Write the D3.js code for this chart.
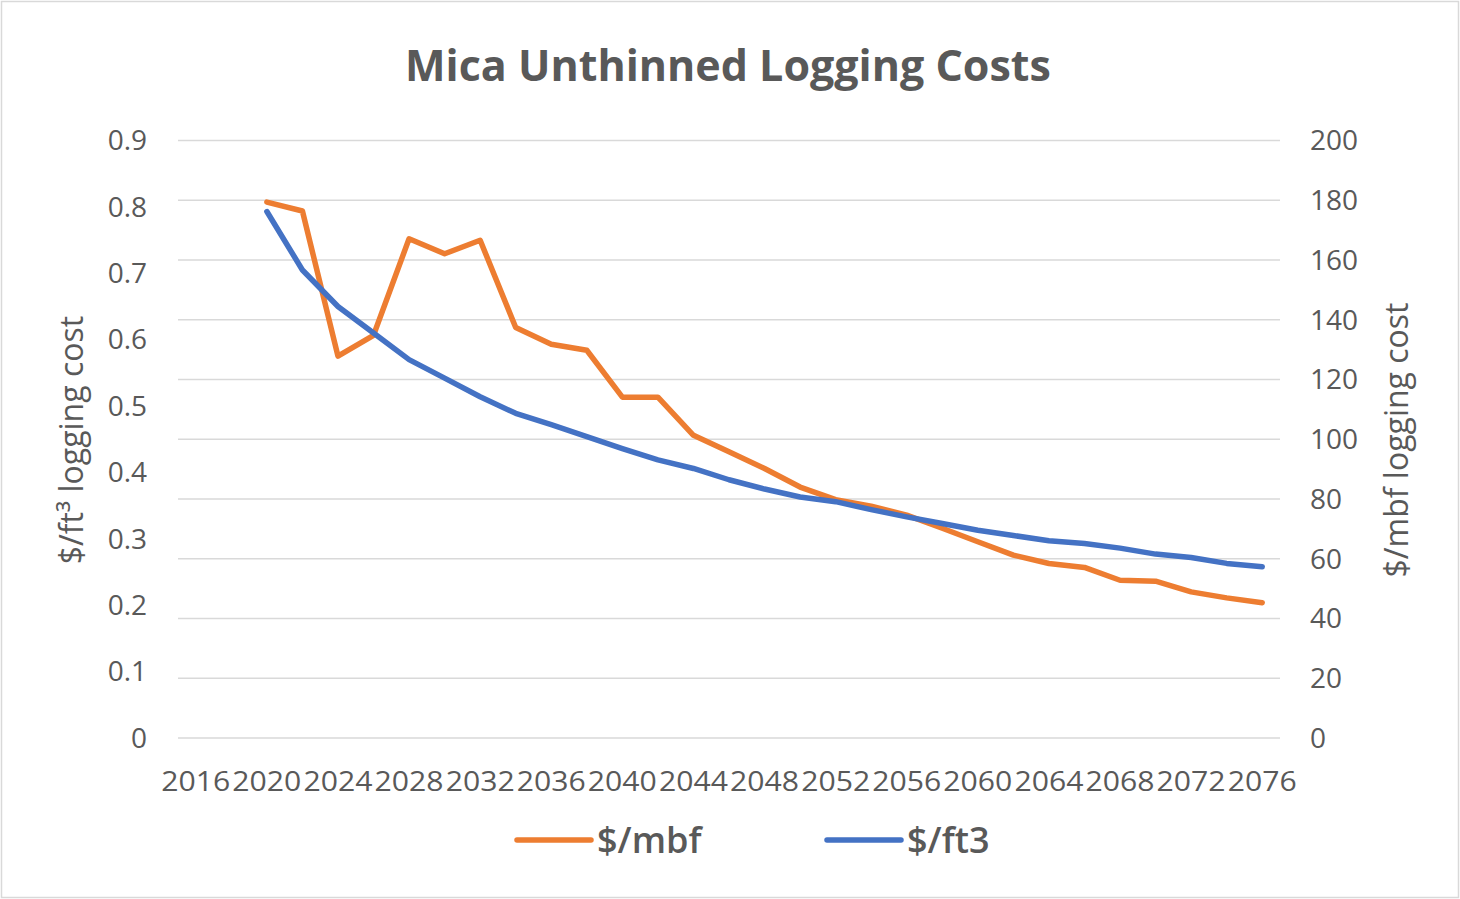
<!DOCTYPE html>
<html>
<head>
<meta charset="utf-8">
<script src="https://cdn.jsdelivr.net/npm/d3@7"></script>
<style>
  html, body { margin: 0; padding: 0; background: #fff; }
  svg text { font-family: "Open Sans", "Noto Sans", sans-serif; fill: #595959; }
</style>
</head>
<body>
<div id="chart"></div>
<script>
// categories: one every 2 years, label every other one
const years = [2016, 2018, 2020, 2022, 2024, 2026, 2028, 2030, 2032, 2034, 2036, 2038, 2040,
  2042, 2044, 2046, 2048, 2050, 2052, 2054, 2056, 2058, 2060, 2062, 2064, 2066, 2068, 2070,
  2072, 2074, 2076];

// $/mbf (right axis)
const mbfValues = [null, null, 179.4, 176.4, 127.8, 134.8, 167.1, 162.1, 166.6, 137.4, 131.8,
  129.8, 114.1, 114.1, 101.3, 95.8, 90.2, 84.0, 79.8, 77.6, 74.6, 70.2, 65.7, 61.2, 58.4,
  57.1, 52.8, 52.5, 48.9, 46.9, 45.3];

// $/ft3 (left axis)
const ft3Values = [null, null, 0.793, 0.705, 0.650, 0.610, 0.570, 0.542, 0.514, 0.489, 0.472,
  0.454, 0.436, 0.419, 0.406, 0.389, 0.375, 0.363, 0.356, 0.344, 0.333, 0.323, 0.313,
  0.305, 0.297, 0.293, 0.286, 0.277, 0.272, 0.263, 0.258];

const leftTicks = [0, 0.1, 0.2, 0.3, 0.4, 0.5, 0.6, 0.7, 0.8, 0.9];
const rightTicks = [0, 20, 40, 60, 80, 100, 120, 140, 160, 180, 200];

const W = 1460, H = 899;
const plot = {left: 178, right: 1280, top: 140.5, bottom: 738};

const svg = d3.select("#chart").append("svg")
  .attr("width", W)
  .attr("height", H);

svg.append("rect")
  .attr("x", 1.5).attr("y", 1.5)
  .attr("width", W - 3).attr("height", H - 3)
  .attr("fill", "#fff")
  .attr("stroke", "#d9d9d9")
  .attr("stroke-width", 1.5);

// scales
const x = d3.scaleBand()
  .domain(years)
  .range([plot.left, plot.right])
  .padding(0);
const xc = d => x(d) + x.bandwidth() / 2;

const yLeft = d3.scaleLinear().domain([0, 0.9]).range([plot.bottom, plot.top]);
const yRight = d3.scaleLinear().domain([0, 200]).range([plot.bottom, plot.top]);

// gridlines (follow the right axis)
svg.append("g").attr("class", "grid")
  .selectAll("line")
  .data(rightTicks)
  .join("line")
  .attr("x1", plot.left).attr("x2", plot.right)
  .attr("y1", d => yRight(d)).attr("y2", d => yRight(d))
  .attr("stroke", "#d9d9d9")
  .attr("stroke-width", 1.5);

// left axis labels
svg.append("g")
  .selectAll("text")
  .data(leftTicks)
  .join("text")
  .attr("x", 147)
  .attr("y", d => yLeft(d))
  .attr("dy", "0.35em")
  .attr("text-anchor", "end")
  .style("font-size", "28px")
  .text(d => d3.format("")(d));

// right axis labels
svg.append("g")
  .selectAll("text")
  .data(rightTicks)
  .join("text")
  .attr("x", 1310)
  .attr("y", d => yRight(d))
  .attr("dy", "0.35em")
  .attr("text-anchor", "start")
  .style("font-size", "28px")
  .text(d => d);

// x axis labels, every 4 years
svg.append("g")
  .selectAll("text")
  .data(years.filter((d, i) => i % 2 === 0))
  .join("text")
  .attr("x", d => xc(d))
  .attr("y", 781)
  .attr("dy", "0.35em")
  .attr("text-anchor", "middle")
  .attr("textLength", 69)
  .attr("lengthAdjust", "spacingAndGlyphs")
  .style("font-size", "28px")
  .text(d => d);

// axis titles
svg.append("text")
  .attr("transform", "translate(72,440) rotate(-90)")
  .attr("text-anchor", "middle")
  .attr("dy", "0.35em")
  .style("font-size", "32px")
  .text("$/ft\u00B3 logging cost");

svg.append("text")
  .attr("transform", "translate(1397,440) rotate(-90)")
  .attr("text-anchor", "middle")
  .attr("dy", "0.35em")
  .style("font-size", "32px")
  .text("$/mbf logging cost");

// title
svg.append("text")
  .attr("x", 728)
  .attr("y", 66)
  .attr("dy", "0.35em")
  .attr("text-anchor", "middle")
  .style("font-size", "43px")
  .style("font-weight", "bold")
  .text("Mica Unthinned Logging Costs");

// lines
const series = [
  {name: "$/mbf", values: mbfValues, scale: yRight, color: "#ED7D31"},
  {name: "$/ft3", values: ft3Values, scale: yLeft, color: "#4472C4"}
];

series.forEach(s => {
  const line = d3.line()
    .defined(d => d.v !== null)
    .x(d => xc(d.year))
    .y(d => s.scale(d.v));
  svg.append("path")
    .datum(years.map((year, i) => ({year: year, v: s.values[i]})))
    .attr("d", line)
    .attr("fill", "none")
    .attr("stroke", s.color)
    .attr("stroke-width", 5.5)
    .attr("stroke-linejoin", "round")
    .attr("stroke-linecap", "round");
});

// legend
const legendPos = [517, 827];
const legend = svg.append("g")
  .selectAll("g")
  .data(series)
  .join("g")
  .attr("transform", (d, i) => `translate(${legendPos[i]},840)`);

legend.append("line")
  .attr("x1", 0).attr("x2", 74)
  .attr("stroke", d => d.color)
  .attr("stroke-width", 5.5)
  .attr("stroke-linecap", "round");

legend.append("text")
  .attr("x", 80)
  .attr("dy", "0.35em")
  .style("font-size", "36px")
  .style("font-weight", "600")
  .text(d => d.name);
</script>
</body>
</html>
